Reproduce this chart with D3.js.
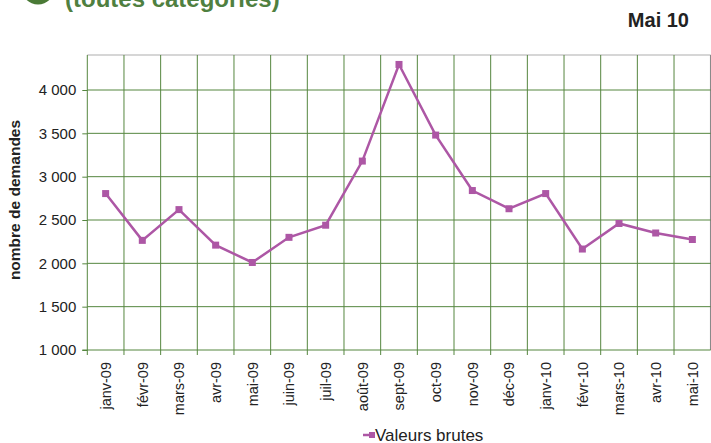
<!DOCTYPE html>
<html>
<head>
<meta charset="utf-8">
<script src="https://cdn.jsdelivr.net/npm/d3@7"></script>
<style>
  body { margin: 0; background: #fff; }
  text { font-family: Arial, "Liberation Sans", sans-serif; }
</style>
</head>
<body>
<script>
var months = ["janv-09", "févr-09", "mars-09", "avr-09", "mai-09", "juin-09", "juil-09",
              "août-09", "sept-09", "oct-09", "nov-09", "déc-09", "janv-10", "févr-10",
              "mars-10", "avr-10", "mai-10"];
var valeursBrutes = [2805, 2265, 2620, 2210, 2010, 2300, 2440, 3180, 4295, 3480,
                     2840, 2630, 2805, 2165, 2460, 2350, 2275];
var yTicks = [1000, 1500, 2000, 2500, 3000, 3500, 4000];

var W = 711, H = 443;
var pLeft = 87.3, pRight = 710.7, pTop = 55, pBottom = 350;
var gridColor = "#55863f";
var lineColor = "#ad57a5";
var fontFam = "Arial, 'Liberation Sans', sans-serif";

var svg = d3.select("body").append("svg")
    .attr("width", W)
    .attr("height", H);

// header bits cut off at the top
svg.append("circle")
    .attr("cx", 38).attr("cy", -12).attr("r", 16.5)
    .attr("fill", "#4a7a36");
svg.append("text")
    .attr("x", 65).attr("y", 7)
    .attr("font-size", 24).attr("font-weight", "bold")
    .attr("fill", "#4f8040")
    .text("(toutes catégories)");
svg.append("text")
    .attr("x", 689).attr("y", 27)
    .attr("text-anchor", "end")
    .attr("font-size", 20).attr("font-weight", "bold")
    .attr("fill", "#222")
    .text("Mai 10");

var x = d3.scaleBand().domain(months).range([pLeft, pRight]);
var y = d3.scaleLinear().domain([1000, 4404]).range([pBottom, pTop]);

// frame top/right
svg.append("line")
    .attr("x1", pLeft).attr("x2", pRight).attr("y1", pTop).attr("y2", pTop)
    .attr("stroke", "#c8c8c8").attr("stroke-width", 1.5);
svg.append("line")
    .attr("x1", pRight).attr("x2", pRight).attr("y1", pTop).attr("y2", pBottom)
    .attr("stroke", "#8a8a8a").attr("stroke-width", 1.5);

// vertical gridlines at band boundaries
var bounds = months.map(function(m) { return x(m); });
svg.append("g").selectAll("line")
    .data(bounds.slice(1))
    .join("line")
    .attr("x1", function(d) { return d; }).attr("x2", function(d) { return d; })
    .attr("y1", pTop).attr("y2", pBottom + 5)
    .attr("stroke", gridColor).attr("stroke-width", 1);

// horizontal gridlines
svg.append("g").selectAll("line")
    .data(yTicks.slice(1))
    .join("line")
    .attr("x1", pLeft).attr("x2", pRight)
    .attr("y1", function(d) { return y(d); }).attr("y2", function(d) { return y(d); })
    .attr("stroke", gridColor).attr("stroke-width", 1);

// y axis
var fmt = function(d) { return d3.format(",")(d).replace(",", " "); };
var yAxis = svg.append("g")
    .attr("transform", "translate(" + pLeft + ",0)")
    .call(d3.axisLeft(y).tickValues(yTicks).tickFormat(fmt).tickSize(5).tickPadding(6));
yAxis.select(".domain").attr("stroke", gridColor).attr("d", "M0," + pTop + "V" + pBottom);
yAxis.selectAll(".tick line").attr("stroke", gridColor);
yAxis.selectAll("text").attr("font-size", 15).attr("fill", "#222")
    .style("font-family", fontFam);

// x axis
var xAxis = svg.append("g")
    .attr("transform", "translate(0," + pBottom + ")")
    .call(d3.axisBottom(x).tickSize(0).tickPadding(0));
xAxis.select(".domain").attr("stroke", gridColor).attr("d", "M" + (pLeft - 5) + ",0H" + pRight);
xAxis.append("line")
    .attr("x1", pLeft).attr("x2", pLeft).attr("y1", 0).attr("y2", 5)
    .attr("stroke", gridColor);
xAxis.selectAll("text")
    .attr("font-size", 14.5).attr("fill", "#222")
    .style("font-family", fontFam)
    .attr("text-anchor", "end")
    .attr("transform", "rotate(-90)")
    .attr("x", -12).attr("y", 0).attr("dy", "0.36em");

// y title
svg.append("text")
    .attr("transform", "translate(20,200) rotate(-90)")
    .attr("text-anchor", "middle")
    .attr("font-size", 15.5).attr("font-weight", "bold")
    .attr("fill", "#222")
    .text("nombre de demandes");

// series
var line = d3.line()
    .x(function(d, i) { return x(months[i]) + x.bandwidth() / 2; })
    .y(function(d) { return y(d); });

svg.append("path")
    .attr("d", line(valeursBrutes))
    .attr("fill", "none")
    .attr("stroke", lineColor)
    .attr("stroke-width", 2.5);

svg.append("g").selectAll("rect")
    .data(valeursBrutes)
    .join("rect")
    .attr("x", function(d, i) { return x(months[i]) + x.bandwidth() / 2 - 3.5; })
    .attr("y", function(d) { return y(d) - 3.5; })
    .attr("width", 7).attr("height", 7)
    .attr("fill", lineColor);

// legend
var lg = svg.append("g").attr("transform", "translate(363,435)");
lg.append("line").attr("x1", 0).attr("x2", 12).attr("y1", 0).attr("y2", 0)
    .attr("stroke", lineColor).attr("stroke-width", 2.5);
lg.append("rect").attr("x", 6).attr("y", -3).attr("width", 6).attr("height", 6)
    .attr("fill", lineColor);
lg.append("text").attr("x", 12).attr("y", 5.5)
    .attr("font-size", 17).attr("fill", "#222")
    .text("Valeurs brutes");
</script>
</body>
</html>
